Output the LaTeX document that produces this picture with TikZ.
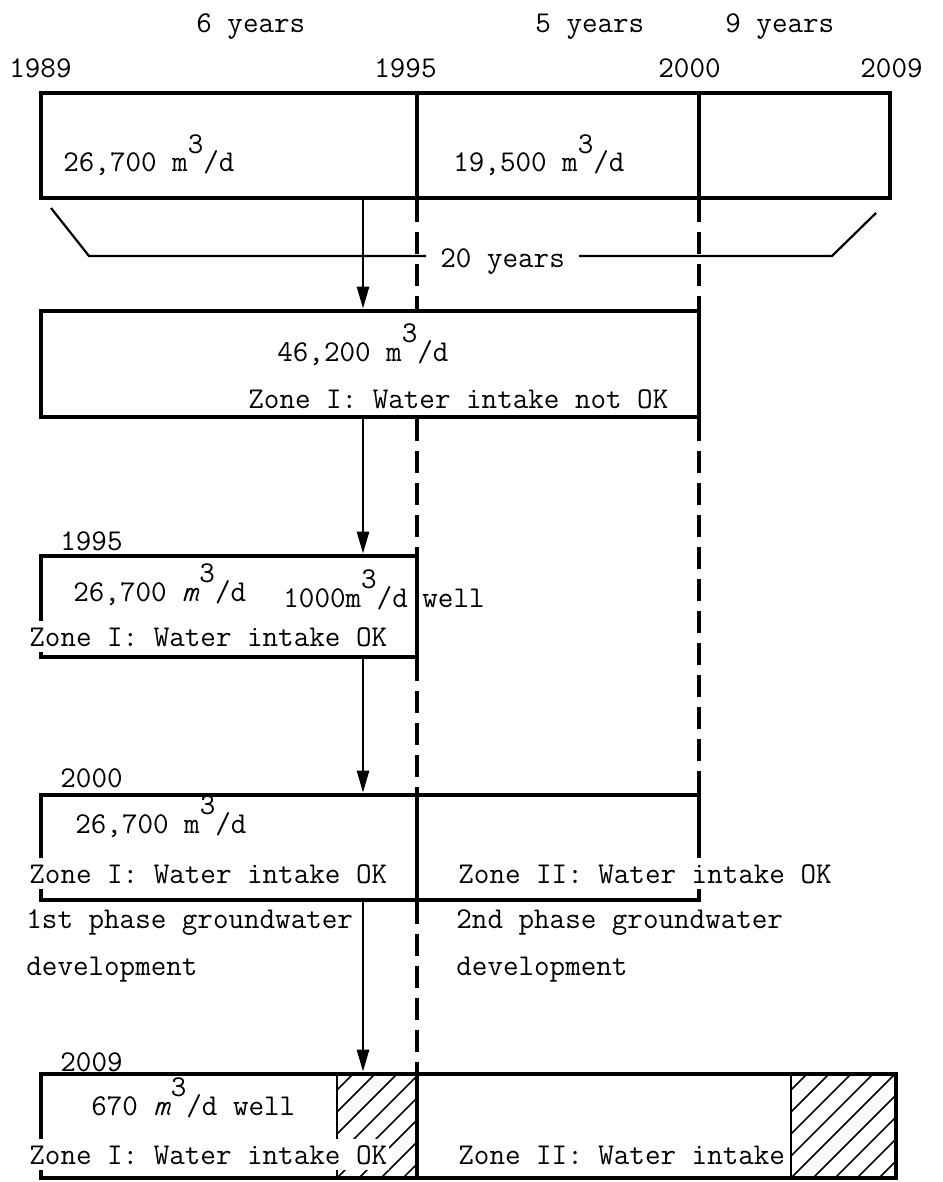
\documentclass[tikz,border=0pt]{standalone}
\usepackage{fontspec}
\usetikzlibrary{arrows.meta}

\newcommand{\cub}{m\raisebox{0.6em}{3}/d}
\newcommand{\itcub}{\textit{m}\raisebox{0.6em}{3}/d}

\tikzset{
  txt/.style={font=\fontsize{15.1}{18}\selectfont\ttfamily,inner sep=0pt,anchor=base west},
  cuttxt/.style={txt,fill=white,inner xsep=1pt,inner ysep=3pt},
  box/.style={draw,line width=2.4pt,inner sep=0pt},
  divline/.style={line width=1.8pt},
  dashline/.style={line width=1.8pt,dash pattern=on 11pt off 5pt},
  bracket/.style={line width=1.1pt},
  hatch/.style={line width=0.8pt}
}

\begin{document}
\begin{tikzpicture}[x=0.5pt,y=-0.5pt,>={Triangle[length=11pt,width=6pt]}]
\useasboundingbox (0,0) rectangle (942,1182);
% picture in pixel units, y runs down
\coordinate (arr) at (363,0);
\coordinate (d95) at (417,0);
\coordinate (d00) at (699,0);

% time line on top
\node[txt] (yr6) at (196,33) {6 years};
\node[txt] (yr5) at (535,33) {5 years};
\node[txt] (yr9) at (725,33) {9 years};
\node[txt] (t1989) at (9,78) {1989};
\node[txt] (t1995) at (374,78) {1995};
\node[txt] (t2000) at (658,78) {2000};
\node[txt] (t2009) at (860,78) {2009};

\node[box,minimum width=424.5pt,minimum height=52.5pt] (plan) at (465.5,145.5) {};
\draw[divline] (plan.north -| d95) -- (plan.south -| d95);
\draw[divline] (plan.north -| d00) -- (plan.south -| d00);
\node[txt] (q1) at (63,172) {26,700 \cub};
\node[txt] (q2) at (453,172) {19,500 \cub};

% 20 years bracket
\coordinate (brl) at (51,208);
\coordinate (brlb) at (89,256);
\coordinate (brr) at (876,213);
\coordinate (brrb) at (832,256);
\node[txt,inner xsep=7pt] (span) at (426,267) {20 years};
\draw[bracket] (brl) -- (brlb) -- (brlb -| span.west);
\draw[bracket] (brrb -| span.east) -- (brrb) -- (brr);

% total demand
\node[box,minimum width=329pt,minimum height=53pt] (need) at (370,364) {};
\node[txt] (q3) at (277,361) {46,200 \cub};
\node[txt] (z0) at (248,408) {Zone I: Water intake not OK};

% 1995
\node[box,minimum width=188pt,minimum height=50.5pt] (s1995) at (229,606.5) {};
\node[txt] (l1995) at (60,550) {1995};
\node[txt] (q4) at (73,601) {26,700 \itcub};
\node[txt] (q5) at (283,607) {1000\cub};
\node[txt] (w1) at (422,607) {well};
\node[cuttxt] (z1) at (27,646) {Zone I: Water intake OK};

% 2000
\node[box,minimum width=329pt,minimum height=52.5pt] (s2000) at (370,847.5) {};
\draw[divline] (s2000.north -| d95) -- (s2000.south -| d95);
\node[txt] (l2000) at (60,787) {2000};
\node[txt] (q6) at (75,833) {26,700 \cub};
\node[cuttxt] (z2) at (27,883) {Zone I: Water intake OK};
\node[cuttxt] (z3) at (456,883) {Zone II: Water intake OK};
\node[txt] (ph1) at (26,928) {1st phase groundwater};
\node[txt] (ph1b) at (26,975) {development};
\node[txt] (ph2) at (456,928) {2nd phase groundwater};
\node[txt] (ph2b) at (456,975) {development};

% 2009
\node[box,minimum width=427.5pt,minimum height=52pt] (s2009) at (468.5,1126) {};
\draw[divline] (s2009.north -| d95) -- (s2009.south -| d95);
\begin{scope}
  \clip (337,1076) rectangle (416,1176);
  \foreach \h in {227,249,...,417} \draw[hatch] (\h,1178) -- ++(112,-112);
\end{scope}
\begin{scope}
  \clip (791,1076) rectangle (894,1176);
  \foreach \h in {681,703,...,897} \draw[hatch] (\h,1178) -- ++(112,-112);
\end{scope}
\draw[hatch] (337,1076) -- (337,1176);
\draw[hatch] (791,1076) -- (791,1176);
\node[txt] (l2009) at (60,1071) {2009};
\node[txt] (q7) at (91,1115) {670 \itcub{} well};
\node[cuttxt] (z4) at (27,1164) {Zone I: Water intake OK};
\node[cuttxt] (z5) at (456,1164) {Zone II: Water intake};

% dashed year lines
\draw[dashline] (plan.south -| d95) -- (need.north -| d95);
\draw[dashline] (need.south -| d95) -- (s1995.north -| d95);
\draw[dashline] (s1995.south -| d95) -- (s2000.north -| d95);
\draw[dashline] (s2000.south -| d95) -- (s2009.north -| d95);
\draw[dashline] (plan.south -| d00) -- (need.north -| d00);
\draw[dashline] (need.south -| d00) -- (s2000.north -| d00);

% flow arrows
\draw[->,line width=1.3pt] (plan.south -| arr) -- (need.north -| arr);
\draw[->,line width=1.3pt] (need.south -| arr) -- (s1995.north -| arr);
\draw[->,line width=1.3pt] (s1995.south -| arr) -- (s2000.north -| arr);
\draw[->,line width=1.3pt] (s2000.south -| arr) -- (s2009.north -| arr);
\end{tikzpicture}
\end{document}
